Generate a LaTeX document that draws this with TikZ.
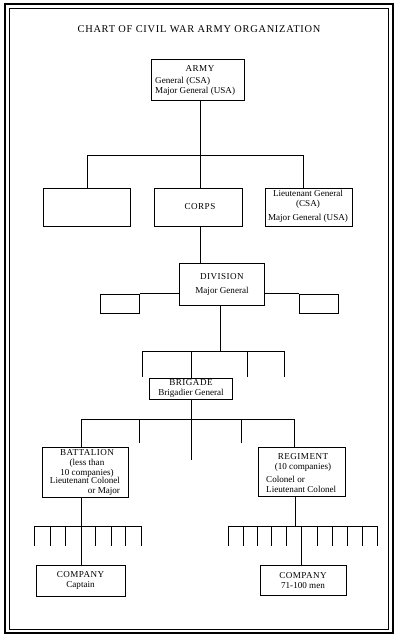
\documentclass[tikz,border=0pt]{standalone}
\usepackage{fontspec}
\setmainfont{Liberation Serif}
\newfontfamily\titlefont[LetterSpace=7]{Liberation Serif}
\newfontfamily\capsfont[LetterSpace=5]{Liberation Serif}
\begin{document}
\begin{tikzpicture}[x=1pt,y=-1pt,
  box/.style={draw, line width=1pt, inner sep=0pt, anchor=center},
  txt/.style={inner sep=0pt, font=\fontsize{9.1}{10}\selectfont, align=center},
  conn/.style={line width=1pt}]
\useasboundingbox (0,0) rectangle (400,642);
% frame
\draw[line width=2pt] (5,4.5) rectangle (392.5,633);
\draw[line width=0.7pt] (9.5,8.5) rectangle (388.5,629.5);
% title
\node[inner sep=0pt, font=\titlefont\fontsize{10.4}{12}\selectfont] (title) at (199,29) {CHART OF CIVIL WAR ARMY ORGANIZATION};
% boxes
\node[box, minimum width=93pt, minimum height=40pt] (army) at (197.5,80) {};
\node[box, minimum width=87pt, minimum height=38pt] (b1) at (86.5,207) {};
\node[box, minimum width=88pt, minimum height=38pt] (corps) at (198,207) {};
\node[box, minimum width=87pt, minimum height=38pt] (ltgen) at (308.5,207) {};
\node[box, minimum width=85pt, minimum height=42pt] (div) at (221.5,284) {};
\node[box, minimum width=39pt, minimum height=19pt] (sl) at (119.5,303.5) {};
\node[box, minimum width=39pt, minimum height=19pt] (sr) at (318.5,303.5) {};
\node[box, minimum width=83pt, minimum height=21pt] (brig) at (190.5,388.5) {};
\node[box, minimum width=86pt, minimum height=50pt] (batt) at (85,472) {};
\node[box, minimum width=87pt, minimum height=49pt] (reg) at (301.5,471.5) {};
\node[box, minimum width=89pt, minimum height=31pt] (compL) at (80.5,580.5) {};
\node[box, minimum width=86pt, minimum height=30pt] (compR) at (303,580) {};
% texts
\node[txt, font=\capsfont\fontsize{9.1}{10}\selectfont] (tarmy) at (200,68) {ARMY};
\node[txt, align=left, anchor=west] (tarmy2) at (155,86) {General (CSA)\\Major General (USA)};
\node[txt, font=\capsfont\fontsize{9.1}{10}\selectfont] (tcorps) at (200,207) {CORPS};
\node[txt] (tlt) at (308,199) {Lieutenant General\\(CSA)};
\node[txt] (tlt2) at (308,218) {Major General (USA)};
\node[txt, font=\capsfont\fontsize{9.1}{10}\selectfont] (tdiv) at (222,277) {DIVISION};
\node[txt] (tdiv2) at (222,291) {Major General};
\node[txt] (tbrig) at (191,388.5) {{\capsfont BRIGADE}\\Brigadier General};
\node[txt] (tbatt) at (87,463.5) {{\capsfont BATTALION}\\(less than\\10 companies)};
\node[txt, align=right] (tbatt2) at (85,486.5) {Lieutenant Colonel\\or Major};
\node[txt] (treg) at (303,462) {{\capsfont REGIMENT}\\(10 companies)};
\node[txt, align=left, anchor=west] (treg2) at (266,484) {Colonel or\\Lieutenant Colonel};
\node[txt] (tcl) at (80.5,580.5) {{\capsfont COMPANY}\\Captain};
\node[txt] (tcr) at (303,580.5) {{\capsfont COMPANY}\\71-100 men};
% level 1
\coordinate (p1L) at (87,155);
\coordinate (p1M) at (200,155);
\coordinate (p1R) at (303,155);
\draw[conn] (army.south -| p1M) -- (p1M);
\draw[conn] (p1L) -- (p1R);
\draw[conn] (p1L) -- (p1L |- b1.north);
\draw[conn] (p1M) -- (p1M |- corps.north);
\draw[conn] (p1R) -- (p1R |- ltgen.north);
\draw[conn] (p1M |- corps.south) -- (p1M |- div.north);
% division side boxes
\draw[conn] (div.west |- sl.north east) -- (sl.north east);
\draw[conn] (div.east |- sr.north west) -- (sr.north west);
% level 2
\coordinate (p2M) at (220,351);
\coordinate (p2L) at (142,351);
\coordinate (p2R) at (284,351);
\coordinate (p2B) at (191,351);
\draw[conn] (div.south -| p2M) -- (p2M);
\draw[conn] (p2L) -- (p2R);
\foreach \i/\x in {1/142,2/247,3/284} {
  \coordinate (u\i) at (\x,351);
  \coordinate (v\i) at (\x,377);
  \draw[conn] (u\i) -- (v\i);
}
\draw[conn] (p2B) -- (p2B |- brig.north);
% level 3
\coordinate (p3M) at (191,419);
\coordinate (p3L) at (81,419);
\coordinate (p3R) at (294,419);
\draw[conn] (brig.south -| p3M) -- (p3M);
\draw[conn] (p3L) -- (p3R);
\draw[conn] (p3L) -- (p3L |- batt.north);
\draw[conn] (p3R) -- (p3R |- reg.north);
\foreach \i/\x/\y in {1/139/443,2/241/443,3/191/460} {
  \coordinate (w\i) at (\x,419);
  \coordinate (z\i) at (\x,\y);
  \draw[conn] (w\i) -- (z\i);
}
% battalion comb
\coordinate (cbL) at (34,526);
\coordinate (cbR) at (141,526);
\coordinate (cbM) at (81,526);
\draw[conn] (batt.south -| cbM) -- (cbM |- compL.north);
\draw[conn] (cbL) -- (cbR);
\foreach \i/\x in {1/34,2/50,3/65,4/95,5/111,6/125,7/141} {
  \coordinate (bt\i) at (\x,526);
  \coordinate (bb\i) at (\x,546);
  \draw[conn] (bt\i) -- (bb\i);
}
% regiment comb
\coordinate (crL) at (228,526);
\coordinate (crR) at (377,526);
\coordinate (crU) at (295,526);
\coordinate (crD) at (301,526);
\draw[conn] (reg.south -| crU) -- (crU);
\draw[conn] (crL) -- (crR);
\draw[conn] (crD) -- (crD |- compR.north);
\foreach \i/\x in {1/228,2/243,3/257,4/271,5/286,6/301,7/317,8/332,9/347,10/362,11/377} {
  \coordinate (rt\i) at (\x,526);
  \coordinate (rb\i) at (\x,546);
  \draw[conn] (rt\i) -- (rb\i);
}
\end{tikzpicture}
\end{document}
